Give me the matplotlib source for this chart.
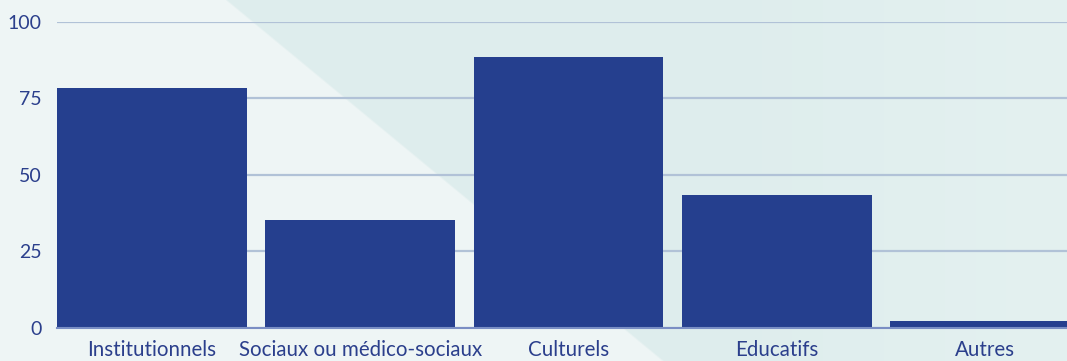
import numpy as np
import matplotlib
matplotlib.use("Agg")
import matplotlib.pyplot as plt

# Data
categories = ["Institutionnels", "Sociaux ou médico-sociaux", "Culturels", "Educatifs", "Autres"]
values = [78.4, 35.2, 88.6, 43.4, 2.2]
yticks = [0, 25, 50, 75, 100]

BAR = "#253F8E"
TEXT = "#2B3F8C"
GRID = "#B1C2D7"
BASE = "#7A8EC4"

W, H, DPI = 1067, 361, 100
plt.rcParams["font.family"] = ["Lato", "DejaVu Sans"]

fig = plt.figure(figsize=(W / DPI, H / DPI), dpi=DPI)

# Soft teal background with a pale diagonal band on the left
bg = fig.add_axes([0, 0, 1, 1], zorder=0)
yy, xx = np.mgrid[0:H, 0:W].astype(float)
light = np.array([0xEE, 0xF5, 0xF5]) / 255.0
dark = np.array([0xDE, 0xED, 0xED]) / 255.0
right = np.array([0xE4, 0xF1, 0xF0]) / 255.0
edge = 225 + 1.21 * yy
t = np.clip((xx - edge) / 3.0, 0, 1)[..., None]
r = np.clip((xx - 700) / 367.0, 0, 1)[..., None]
darkside = dark * (1 - r) + right * r
img = light * (1 - t) + darkside * t
bg.imshow(img, extent=[0, W, H, 0], aspect="auto", interpolation="bilinear")
bg.set_axis_off()

left_px, right_px = 57, W
bottom_px, top_px = 327.7, 22
ax = fig.add_axes([left_px / W, (H - bottom_px) / H,
                   (right_px - left_px) / W, (bottom_px - top_px) / H], zorder=1)
ax.patch.set_alpha(0)

x = np.arange(len(categories))
ax.bar(x, values, width=0.912, color=BAR, zorder=3)

pitch = 208.25
ax.set_xlim(-0.456, -0.456 + (right_px - left_px) / pitch)
ax.set_ylim(0, 100)

ax.set_yticks(yticks)
ax.set_yticklabels([str(v) for v in yticks])
ax.yaxis.grid(True, color=GRID, linewidth=1.6, zorder=1)
ax.set_axisbelow(True)
ax.set_xticks(x)
ax.set_xticklabels(categories)
ax.tick_params(axis="both", length=0, colors=TEXT, labelsize=14.8)
ax.tick_params(axis="y", pad=11, labelsize=14)
ax.tick_params(axis="x", pad=9)

for s in ["top", "right", "left"]:
    ax.spines[s].set_visible(False)
ax.spines["bottom"].set_color(BASE)
ax.spines["bottom"].set_linewidth(1.5)
ax.spines["bottom"].set_zorder(4)

fig.savefig("out.png", dpi=DPI)
